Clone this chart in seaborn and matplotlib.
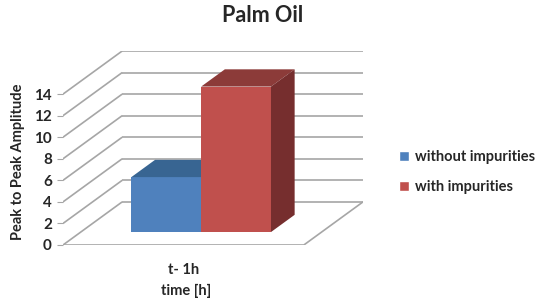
#!/usr/bin/env python3

import seaborn as sns
import matplotlib.pyplot as plt
from matplotlib.patches import Patch, Polygon
import pandas as pd

# data
categories = ["t- 1h"]
series = ["without impurities", "with impurities"]
values = [5.1, 13.5]
yticks = [0, 2, 4, 6, 8, 10, 12, 14]

colors = ["#4F81BD", "#C0504D"]
tops = ["#386592", "#8C3B39"]
sides = ["#2F5479", "#762E2E"]

FONT = ["Lato", "DejaVu Sans"]

# fake 3D: oblique projection of a depth axis (in data units)
DX, DY = 0.339, 4.0
D0, D1 = 0.3, 0.7
XL, XR = -0.69, 0.69


def ShowChart():
    sns.set_style("white")
    plt.rcParams["font.family"] = FONT
    plt.rcParams["font.weight"] = "bold"

    fig = plt.figure(figsize=(5.41, 3.03), dpi=100)
    ax = fig.add_axes([63/541, 58/303, 300/541, 194/303])

    df = pd.DataFrame({"time": categories * len(series),
                       "series": series, "value": values})
    sns.barplot(data=df, x="time", y="value", hue="series", palette=colors,
                saturation=1, errorbar=None, legend=False, width=0.8, ax=ax)

    # walls and floor
    grid = dict(color="#a6a6a6", lw=1.2, zorder=1, solid_capstyle="butt")
    for v in yticks:
        ax.plot([XL + DX, XR + DX], [v + DY, v + DY], **grid)
        ax.plot([XL, XL + DX], [v, v + DY], **grid)
    ax.plot([XL, XR, XR + DX], [0, 0, DY], **grid)

    # push bars back into the depth and give them a top and a side
    fx, fy = D0 * DX, D0 * DY
    bx, by = (D1 - D0) * DX, (D1 - D0) * DY
    for i, p in enumerate(ax.patches[:len(series)]):
        x0, w, h = p.get_x(), p.get_width(), p.get_height()
        p.set_x(x0 + fx)
        p.set_y(fy)
        p.set_zorder(3 + i)
        p.set_edgecolor("none")
        xa, xb = x0 + fx, x0 + fx + w
        top = Polygon([(xa, fy + h), (xb, fy + h), (xb + bx, fy + h + by),
                       (xa + bx, fy + h + by)], closed=True,
                      facecolor=tops[i], edgecolor="none", zorder=3 + i)
        side = Polygon([(xb, fy), (xb + bx, fy + by), (xb + bx, fy + h + by),
                        (xb, fy + h)], closed=True,
                       facecolor=sides[i], edgecolor="none", zorder=3 + i)
        ax.add_patch(top)
        ax.add_patch(side)

    ax.set_xlim(XL, XR + DX)
    ax.set_ylim(0, 14 + DY)
    ax.set_yticks(yticks)
    ax.set_yticklabels([str(v) for v in yticks], fontsize=11, fontweight="bold")
    ax.tick_params(axis="y", left=True, length=4, color="#a6a6a6", pad=4)
    ax.tick_params(axis="x", length=0, pad=13, labelsize=10.5)
    for s in ax.spines.values():
        s.set_visible(False)

    ax.set_xlabel("time [h]", fontsize=10.5, fontweight="bold")
    ax.xaxis.set_label_coords(0.41, -0.2)
    ax.set_ylabel("Peak to Peak Amplitude", fontsize=10.5, fontweight="bold")
    ax.yaxis.set_label_coords(-0.125, 0.43)

    fig.text(263/541, 1 - 16/303, "Palm Oil", ha="center", va="center",
             fontsize=15.5, fontweight="bold")

    handles = [Patch(facecolor=c, label=s) for c, s in zip(colors, series)]
    fig.legend(handles=handles, loc="center left",
               bbox_to_anchor=(386/541, 1 - 172/303), frameon=False,
               handlelength=0.7, handleheight=0.7, handletextpad=0.4,
               labelspacing=1.1, prop=dict(family=FONT, weight="bold", size=10.5))

    fig.savefig("out.png", dpi=100)


if __name__ == "__main__":
    ShowChart()
